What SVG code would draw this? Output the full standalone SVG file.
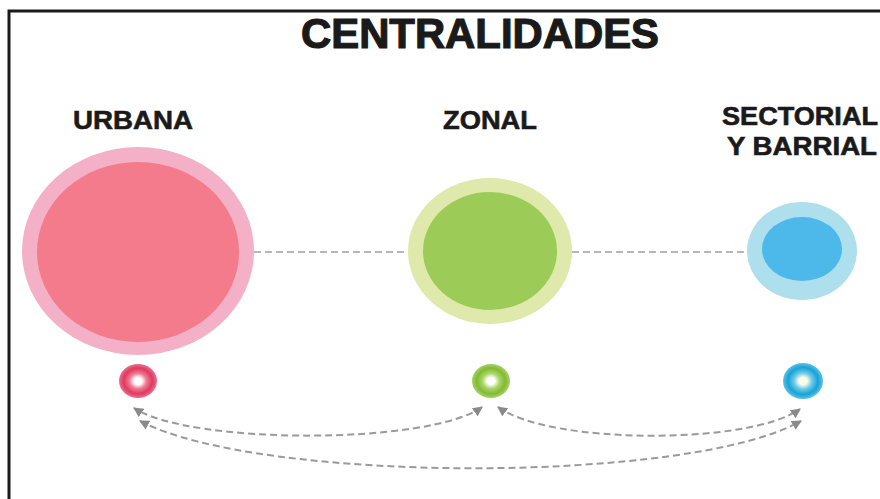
<svg xmlns="http://www.w3.org/2000/svg" width="880" height="499" viewBox="0 0 880 499">
<style>
.lbl{font-family:"Liberation Sans",Arial,sans-serif;font-weight:bold;fill:#1a1a1a;stroke:#1a1a1a;stroke-width:0.6;text-anchor:middle}
.ttl{stroke-width:1.2}
.dash{fill:none;stroke:#9a9a9a;stroke-width:2;stroke-dasharray:7 4}
.hline{fill:none;stroke:#a0a0a0;stroke-width:1.5;stroke-dasharray:7 4}
</style>
<defs>
<radialGradient id="gr" cx="0.5" cy="0.5" r="0.5"><stop offset="0.2" stop-color="#fff"/><stop offset="0.45" stop-color="#f07a95"/><stop offset="0.75" stop-color="#df3a60"/><stop offset="1" stop-color="#ea6f8c"/></radialGradient>
<radialGradient id="gg" cx="0.5" cy="0.5" r="0.5"><stop offset="0.2" stop-color="#fff"/><stop offset="0.45" stop-color="#aad668"/><stop offset="0.75" stop-color="#82ba33"/><stop offset="1" stop-color="#a5d169"/></radialGradient>
<radialGradient id="gb" cx="0.5" cy="0.5" r="0.5"><stop offset="0.2" stop-color="#fffbe8"/><stop offset="0.45" stop-color="#6ccaea"/><stop offset="0.75" stop-color="#16a3d7"/><stop offset="1" stop-color="#5cc0e6"/></radialGradient>
<marker id="ah" viewBox="0 0 10 10" refX="9" refY="5" markerWidth="5" markerHeight="5" orient="auto-start-reverse"><path d="M0,0 L10,5 L0,10 z" fill="#8a8a8a"/></marker>
</defs>
<rect width="880" height="499" fill="#fff"/>
<path d="M9,499 V11 H880" fill="none" stroke="#1a1a1a" stroke-width="3"/>
<text class="lbl ttl" x="480" y="48" font-size="42" textLength="358" lengthAdjust="spacingAndGlyphs">CENTRALIDADES</text>
<g id="connectors">
<line class="hline" x1="254" y1="252" x2="408" y2="252"/>
<line class="hline" x1="572" y1="252" x2="747" y2="252"/>
<path class="dash" d="M482,407 C430,445 190,445 134,408" marker-start="url(#ah)" marker-end="url(#ah)"/>
<path class="dash" d="M498,407 C550,445 750,445 800,409" marker-start="url(#ah)" marker-end="url(#ah)"/>
<path class="dash" d="M140,421 C260,484 690,484 801,421" marker-start="url(#ah)" marker-end="url(#ah)"/>
</g>
<g id="urbana">
<text class="lbl" x="133" y="129" font-size="26" textLength="120" lengthAdjust="spacingAndGlyphs">URBANA</text>
<ellipse cx="138" cy="251" rx="116" ry="104" fill="#f4b0c6"/>
<ellipse cx="138" cy="252" rx="101" ry="90" fill="#f47b8b"/>
<ellipse cx="138" cy="381" rx="19" ry="17" fill="url(#gr)"/>
</g>
<g id="zonal">
<text class="lbl" x="490" y="129" font-size="26" textLength="94" lengthAdjust="spacingAndGlyphs">ZONAL</text>
<ellipse cx="490" cy="251" rx="82" ry="73" fill="#dfe9ab"/>
<ellipse cx="490" cy="251" rx="67" ry="59" fill="#9dcb58"/>
<ellipse cx="491" cy="381" rx="19" ry="17" fill="url(#gg)"/>
</g>
<g id="sectorial">
<text class="lbl" x="800" y="125" font-size="25" textLength="156" lengthAdjust="spacingAndGlyphs">SECTORIAL</text>
<text class="lbl" x="802" y="155" font-size="25" textLength="150" lengthAdjust="spacingAndGlyphs">Y BARRIAL</text>
<ellipse cx="802" cy="251" rx="55" ry="49" fill="#addfec"/>
<ellipse cx="802" cy="249" rx="40" ry="32" fill="#4db9ea"/>
<ellipse cx="803" cy="381" rx="20" ry="18" fill="url(#gb)"/>
</g>
</svg>
